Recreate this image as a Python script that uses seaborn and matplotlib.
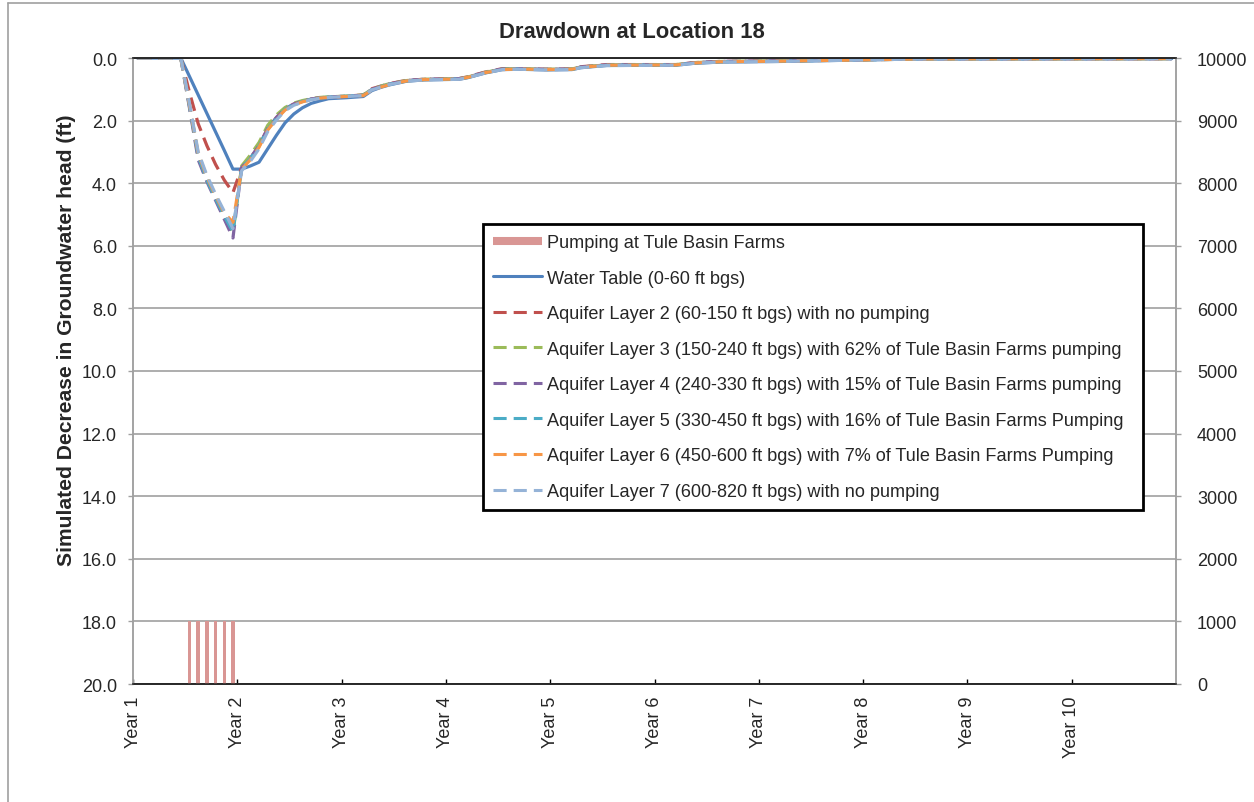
import numpy as np
import pandas as pd
import matplotlib
matplotlib.use("Agg")
import matplotlib.pyplot as plt
import seaborn as sns
from matplotlib.lines import Line2D

# ---------------- data ----------------
month = [0.5, 5.5, 6.5, 7.5, 8.5, 9.5, 10.5, 11.5, 12.5, 13.5, 14.5, 15.5, 16.5, 17.5,
         18.5, 19.5, 20.5, 21.5, 22.5, 24.5, 26.5, 27.5, 28.5, 29.5, 31.5, 33.5, 37.5,
         38.5, 40.5, 42.5, 44.5, 47.5, 50.5, 51.5, 54.5, 62.5, 64.5, 67.5, 74.5, 84.5,
         90.5, 119.5]

water_table = [0, 0, 0.59, 1.18, 1.77, 2.36, 2.95, 3.55, 3.55, 3.45, 3.33, 2.90, 2.47, 2.07,
               1.79, 1.59, 1.45, 1.37, 1.30, 1.27, 1.23, 1.04, 0.94, 0.86, 0.74, 0.70, 0.68,
               0.63, 0.48, 0.37, 0.36, 0.38, 0.37, 0.31, 0.24, 0.23, 0.17, 0.13, 0.11, 0.06,
               0.03, 0.02]
layer2 = [0, 0, 1.10, 2.10, 2.80, 3.40, 3.90, 4.30, 3.50, 3.20, 2.80, 2.25, 1.90, 1.62,
          1.47, 1.38, 1.31, 1.27, 1.25, 1.22, 1.18, 0.98, 0.90, 0.82, 0.71, 0.68, 0.66,
          0.60, 0.45, 0.34, 0.34, 0.36, 0.35, 0.28, 0.21, 0.21, 0.15, 0.11, 0.09, 0.05,
          0.02, 0.02]
layer3 = [0, 0, 1.50, 3.10, 3.85, 4.45, 5.05, 5.60, 3.45, 3.10, 2.70, 2.15, 1.82, 1.58,
          1.44, 1.36, 1.30, 1.26, 1.24, 1.22, 1.18, 0.99, 0.90, 0.82, 0.72, 0.68, 0.66,
          0.61, 0.46, 0.35, 0.34, 0.36, 0.35, 0.29, 0.22, 0.21, 0.15, 0.11, 0.09, 0.05,
          0.02, 0.02]
layer4 = [0, 0, 1.60, 3.25, 3.95, 4.55, 5.15, 5.75, 3.50, 3.20, 2.80, 2.25, 1.90, 1.62,
          1.47, 1.38, 1.31, 1.27, 1.25, 1.22, 1.19, 1.00, 0.91, 0.83, 0.72, 0.68, 0.66,
          0.61, 0.46, 0.35, 0.34, 0.36, 0.35, 0.29, 0.22, 0.22, 0.15, 0.11, 0.09, 0.05,
          0.02, 0.02]
layer5 = [0, 0, 1.55, 3.15, 3.90, 4.50, 5.05, 5.55, 3.50, 3.22, 2.82, 2.28, 1.93, 1.64,
          1.48, 1.39, 1.32, 1.28, 1.25, 1.22, 1.19, 1.01, 0.92, 0.84, 0.73, 0.69, 0.67,
          0.62, 0.47, 0.36, 0.35, 0.37, 0.36, 0.30, 0.23, 0.22, 0.16, 0.12, 0.10, 0.06,
          0.03, 0.02]
layer6 = [0, 0, 1.50, 3.05, 3.80, 4.40, 4.95, 5.25, 3.55, 3.25, 2.85, 2.30, 1.95, 1.66,
          1.50, 1.40, 1.33, 1.28, 1.26, 1.23, 1.20, 1.02, 0.93, 0.85, 0.73, 0.69, 0.67,
          0.62, 0.47, 0.37, 0.35, 0.37, 0.36, 0.30, 0.23, 0.22, 0.16, 0.12, 0.10, 0.06,
          0.03, 0.02]
layer7 = [0, 0, 1.45, 3.00, 3.75, 4.35, 4.90, 5.45, 3.60, 3.30, 2.90, 2.35, 1.98, 1.68,
          1.51, 1.41, 1.33, 1.29, 1.26, 1.23, 1.20, 1.02, 0.93, 0.85, 0.74, 0.70, 0.68,
          0.63, 0.48, 0.37, 0.36, 0.38, 0.37, 0.31, 0.24, 0.23, 0.17, 0.13, 0.11, 0.06,
          0.03, 0.02]

pump_month = [6.5, 7.5, 8.5, 9.5, 10.5, 11.5]
pump_rate = [1000, 1000, 1000, 1000, 1000, 1000]

year_ticks = [0, 12, 24, 36, 48, 60, 72, 84, 96, 108]
year_labels = ["Year 1", "Year 2", "Year 3", "Year 4", "Year 5",
               "Year 6", "Year 7", "Year 8", "Year 9", "Year 10"]

pump_label = "Pumping at Tule Basin Farms"
series_names = [
    "Water Table (0-60 ft bgs)",
    "Aquifer Layer 2 (60-150 ft bgs) with no pumping",
    "Aquifer Layer 3 (150-240 ft bgs) with 62% of Tule Basin Farms pumping",
    "Aquifer Layer 4 (240-330 ft bgs) with 15% of Tule Basin Farms pumping",
    "Aquifer Layer 5 (330-450 ft bgs) with 16% of Tule Basin Farms Pumping",
    "Aquifer Layer 6 (450-600 ft bgs) with 7% of Tule Basin Farms Pumping",
    "Aquifer Layer 7 (600-820 ft bgs) with no pumping",
]
series_values = [water_table, layer2, layer3, layer4, layer5, layer6, layer7]
series_colors = ["#4F81BD", "#C0504D", "#9BBB59", "#8064A2", "#4BACC6", "#F79646", "#95B3D7"]
pump_color = "#D99694"

# ---------------- style ----------------
sns.set_theme(style="white")
plt.rcParams["font.family"] = ["Liberation Sans", "DejaVu Sans"]

W, H = 1254, 803
fig = plt.figure(figsize=(W / 100, H / 100), dpi=100)
L, R, T, B = 133, 1176, 59, 685
ax = fig.add_axes([L / W, 1 - B / H, (R - L) / W, (B - T) / H])

frames = []
for name, vals in zip(series_names, series_values):
    frames.append(pd.DataFrame({"month": month, "drawdown": vals, "series": name}))
df = pd.concat(frames, ignore_index=True)

dash_pat = (4.3, 2.3)
palette = dict(zip(series_names, series_colors))
dashes = {n: ("" if i == 0 else dash_pat) for i, n in enumerate(series_names)}

sns.lineplot(data=df, x="month", y="drawdown", hue="series", style="series",
             hue_order=series_names, style_order=series_names,
             palette=palette, dashes=dashes, linewidth=2.3, ax=ax,
             legend=False, sort=False, estimator=None)

ax.set_xlim(0, 120)
ax.set_ylim(20, 0)
yt = np.arange(0, 21, 2)
ax.set_yticks(yt)
ax.set_yticklabels([f"{v:.1f}" for v in yt])
ax.set_xticks(year_ticks)
ax.set_xticklabels(year_labels, rotation=90)
ax.set_xlabel("")
ax.set_ylabel("")
ax.grid(axis="y", color="#A0A0A0", linewidth=1.2)
ax.grid(axis="x", visible=False)
ax.set_axisbelow(True)
ax.tick_params(axis="y", direction="out", length=3.6, width=1, color="#A0A0A0",
               labelsize=13, pad=8, left=True)
ax.tick_params(axis="x", direction="in", length=3.6, width=1, color="black",
               labelsize=13, pad=8.6, bottom=True)

ax2 = ax.twinx()
ax2.bar(pump_month, pump_rate, width=0.4, color=pump_color, linewidth=0)
ax2.set_ylim(0, 10000)
ax2.set_yticks(np.arange(0, 10001, 1000))
ax2.set_yticklabels([str(v) for v in range(0, 10001, 1000)])
ax2.tick_params(axis="y", direction="out", length=3.6, width=1, color="#A0A0A0",
                labelsize=13, pad=11.5, right=True)
ax2.set_xlim(0, 120)

for a in (ax, ax2):
    a.spines["left"].set_color("#A0A0A0")
    a.spines["right"].set_color("#A0A0A0")
    a.spines["top"].set_color("#222222")
    a.spines["bottom"].set_color("#222222")
    for s in a.spines.values():
        s.set_linewidth(1.1)

# legend
handles = [Line2D([0], [0], color=pump_color, lw=5.8, solid_capstyle="butt")]
for i, (n, c) in enumerate(zip(series_names, series_colors)):
    if i == 0:
        handles.append(Line2D([0], [0], color=c, lw=2.2))
    else:
        handles.append(Line2D([0], [0], color=c, lw=2.2, dashes=dash_pat))
labels = [pump_label] + series_names
lx0 = (483 - L) / (R - L)
lw_ = (1143 - 483) / (R - L)
ly1 = (B - 225) / (B - T)
ly0 = (B - 508) / (B - T)
leg = ax2.legend(handles, labels, loc="upper left",
                 bbox_to_anchor=(lx0, ly0, lw_, ly1 - ly0), mode="expand",
                 borderaxespad=0, fontsize=13.1, frameon=True, fancybox=False,
                 framealpha=1, edgecolor="black", handlelength=2.7,
                 handletextpad=0.25, labelspacing=1.02, borderpad=0.55)
leg.get_frame().set_linewidth(2.0)
leg._legend_box.set_offset  # keep default placement
for t in leg.get_texts():
    pass

fig.text(632 / W, 1 - 32 / H, "Drawdown at Location 18", ha="center", va="center",
         fontsize=15.8, fontweight="bold")
fig.text(67 / W, 1 - 340 / H, "Simulated Decrease in Groundwater head (ft)",
         ha="center", va="center", rotation=90, fontsize=15.2, fontweight="bold")

# chart border
fig.add_artist(Line2D([8 / W, 8 / W], [0, 1 - 4 / H], transform=fig.transFigure,
                      color="#A0A0A0", lw=1.2))
fig.add_artist(Line2D([8 / W, 1], [1 - 4 / H, 1 - 4 / H], transform=fig.transFigure,
                      color="#A0A0A0", lw=1.2))

fig.savefig("out.png", dpi=100)
